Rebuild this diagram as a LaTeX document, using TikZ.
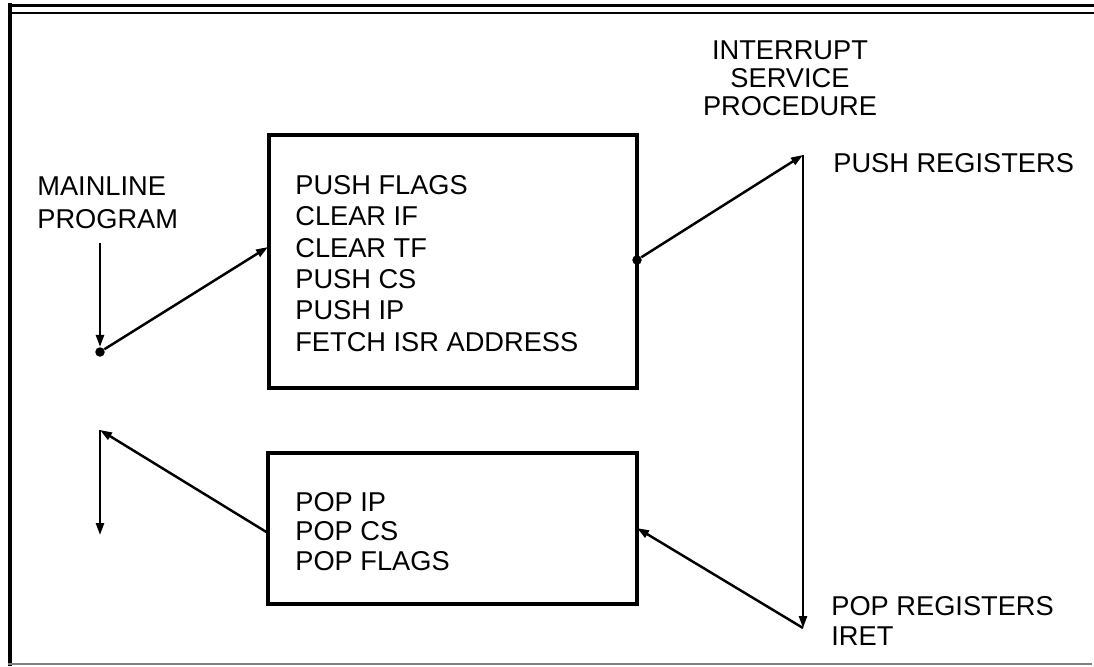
\documentclass[tikz,border=0pt]{standalone}
\usepackage{fontspec}
\setmainfont{Liberation Sans}
\usetikzlibrary{positioning,arrows.meta}

\begin{document}
\begin{tikzpicture}[
      x=0.02cm, y=-0.02cm,
      stepbox/.style={rectangle, draw, line width=2.2pt, inner sep=0pt},
      txt/.style={inner sep=0pt, align=left, font=\fontsize{15.5}{17.8}\selectfont},
      arrow/.style={-{Triangle[length=2.4mm,width=1.6mm]}, line width=1.4pt},
      joint/.style={circle, fill, inner sep=0pt, minimum size=1.9mm}
    ]
    \useasboundingbox (0,0) rectangle (1094,666);
    % --- outer frame ---
    \draw[line width=2.3pt] (10,3) -- (10,666);
    \draw[line width=2pt] (8,5.5) -- (1094,5.5);
    \draw[line width=0.9pt] (12,13) -- (1094,13);
    \draw[gray, line width=1.1pt] (8,664) -- (1092,664);

    % --- boxes and texts ---
    \node[stepbox, minimum width=7.36cm, minimum height=5.06cm] (entry) at (453,261.5) {};
    \node[stepbox, minimum width=7.38cm, minimum height=3.02cm] (exit) at (452.5,528.5) {};
    \node[txt, anchor=west] (pushlist) at (295,263.5)
      {PUSH FLAGS\\CLEAR IF\\CLEAR TF\\PUSH CS\\PUSH IP\\FETCH ISR ADDRESS};
    \node[txt, anchor=west, font=\fontsize{15.5}{16.8}\selectfont] (poplist) at (295,531.5)
      {POP IP\\POP CS\\POP FLAGS};
    \node[txt, anchor=west, font=\fontsize{15.5}{18.7}\selectfont] (mainline) at (37,202.5)
      {MAINLINE\\PROGRAM};
    \node[txt, align=center, font=\fontsize{15.5}{16}\selectfont] (isr) at (790,78)
      {INTERRUPT\\SERVICE\\PROCEDURE};
    \node[txt, anchor=west] (pushreg) at (833,163) {PUSH REGISTERS};
    \node[txt, anchor=west, font=\fontsize{15.5}{17}\selectfont] (popreg) at (831,621)
      {POP REGISTERS\\IRET};

    % --- flow ---
    \coordinate (mtop) at (100,243);
    \node[joint] (mdot) at (100,352) {};
    \coordinate (entryin) at (268,247);
    \node[joint] (entryout) at (637,260) {};
    \coordinate (isrtop) at (803,155);
    \coordinate (isrbot) at (803,628);
    \coordinate (exitin) at (637,528);
    \coordinate (exitout) at (268,533);
    \coordinate (rtop) at (100,430);
    \coordinate (rbot) at (100,535);

    \draw[arrow] (mtop) -- (mdot);
    \draw[arrow] (mdot) -- (entryin);
    \draw[arrow] (entryout) -- (isrtop);
    \draw[arrow] (isrtop) -- (isrbot);
    \draw[arrow] (isrbot) -- (exitin);
    \draw[arrow] (exitout) -- (rtop);
    \draw[arrow] (rtop) -- (rbot);
  \end{tikzpicture}
\end{document}
